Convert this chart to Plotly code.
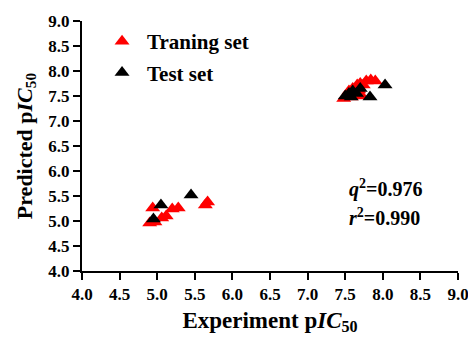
import plotly.graph_objects as go

train_x = [4.94, 4.90, 4.97, 5.06, 5.12, 5.20, 5.28, 5.64, 5.67,
           7.48, 7.55, 7.60, 7.62, 7.66, 7.70, 7.74, 7.78, 7.84, 7.90, 7.72, 7.58, 7.68]
train_y = [5.26, 4.96, 4.98, 5.06, 5.10, 5.24, 5.26, 5.32, 5.38,
           7.45, 7.60, 7.65, 7.55, 7.72, 7.75, 7.72, 7.80, 7.82, 7.80, 7.50, 7.48, 7.62]
test_x = [4.95, 5.05, 5.45, 7.50, 7.55, 7.60, 7.65, 7.70, 7.83, 8.03, 7.58]
test_y = [5.04, 5.32, 5.52, 7.50, 7.55, 7.60, 7.55, 7.65, 7.48, 7.72, 7.48]

ticks = [4.0, 4.5, 5.0, 5.5, 6.0, 6.5, 7.0, 7.5, 8.0, 8.5, 9.0]
tick_text = [f"<b>{t:.1f}</b>" for t in ticks]

font = "Liberation Serif, Times New Roman, serif"

fig = go.Figure()
fig.add_trace(go.Scatter(x=train_x, y=train_y, mode="markers", name="<b>Traning set</b>",
                         legendgroup="a",
                         marker=dict(symbol="triangle-up", size=13, color="#ff0000")))
fig.add_trace(go.Scatter(x=test_x, y=test_y, mode="markers", name="<b>Test set</b>",
                         legendgroup="b",
                         marker=dict(symbol="triangle-up", size=13, color="#000000")))

axis_common = dict(range=[4, 9], tickvals=ticks, ticktext=tick_text,
                   showline=True, linecolor="black", linewidth=2,
                   ticks="outside", ticklen=7, tickwidth=2, tickcolor="black",
                   showgrid=False, zeroline=False, automargin=False,
                   tickfont=dict(family=font, size=17, color="black", weight="bold"))

fig.update_xaxes(**axis_common,
                 title=dict(text="<b>Experiment p<i>IC</i><sub>50</sub></b>",
                            font=dict(family=font, size=23, color="black"), standoff=8))
fig.update_yaxes(**axis_common,
                 title=dict(text="<b>Predicted p<i>IC</i><sub>50</sub></b>",
                            font=dict(family=font, size=22, color="black"), standoff=10))

fig.add_annotation(x=0.705, y=0.33, xref="paper", yref="paper", xanchor="left", yanchor="middle",
                   text="<b><i>q</i><sup>2</sup>=0.976</b>", showarrow=False,
                   font=dict(family=font, size=20, color="black"))
fig.add_annotation(x=0.705, y=0.215, xref="paper", yref="paper", xanchor="left", yanchor="middle",
                   text="<b><i>r</i><sup>2</sup>=0.990</b>", showarrow=False,
                   font=dict(family=font, size=20, color="black"))

fig.update_layout(
    width=468, height=335,
    margin=dict(l=74, r=18, t=13, b=72),
    plot_bgcolor="white", paper_bgcolor="white",
    legend=dict(x=0.04, y=1.0, xanchor="left", yanchor="top",
                font=dict(family=font, size=21, color="black"),
                itemwidth=40,
                bgcolor="rgba(0,0,0,0)", tracegroupgap=1),
)

fig.write_html("out.html")
